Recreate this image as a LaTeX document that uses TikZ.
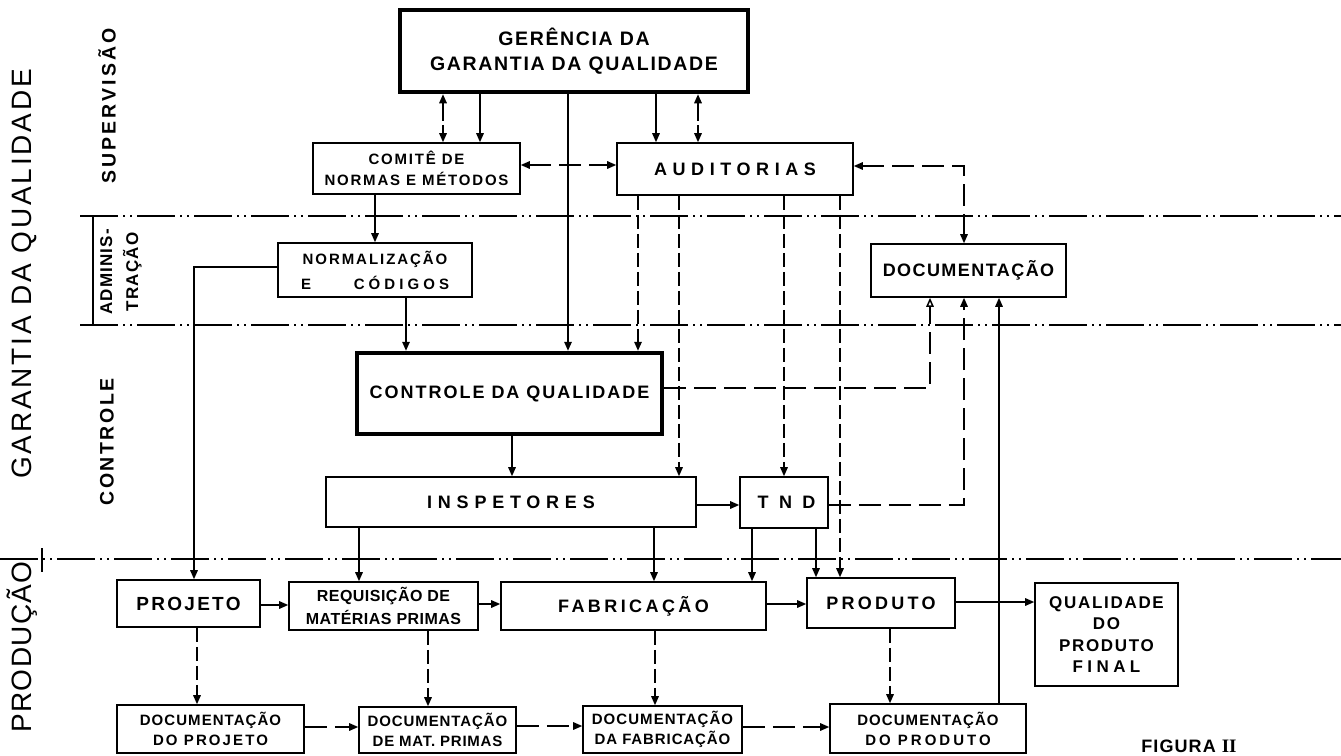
\documentclass[tikz,border=0pt]{standalone}
\usepackage{fontspec}
\setmainfont{Liberation Sans}
\newfontfamily\romannum{Liberation Serif}
\usetikzlibrary{arrows.meta}
\newcommand\fsz[2]{\fontsize{#1}{#2}\selectfont}
\newcommand\lsp[1]{\addfontfeature{LetterSpace=#1}}

\begin{document}
\begin{tikzpicture}[x=1pt,y=-1pt,
  box/.style={draw, line width=1.6pt, inner sep=0pt, align=center},
  heavy/.style={box, line width=4.5pt},
  link/.style={line width=1.5pt},
  arr/.style={link, -{Triangle[length=9pt,width=7.5pt]}},
  biarr/.style={link, {Triangle[length=9pt,width=7.5pt]}-{Triangle[length=9pt,width=7.5pt]}},
  openarr/.style={link, -{Triangle[open,length=9pt,width=7.5pt]}},
  dashlink/.style={dash pattern=on 14pt off 5pt},
  longdash/.style={dash pattern=on 22pt off 8pt},
  brokenlink/.style={dash pattern=on 18pt off 4pt},
  sep/.style={line width=1.8pt, dash pattern=on 38pt off 5pt on 2pt off 5pt on 2pt off 5pt},
  lbl/.style={inner sep=0pt}
]
\useasboundingbox (0,0) rectangle (1341,755);
\fill[white] (0,0) rectangle (1341,755);

% ---- level separators ----
\draw[sep] (80,216) -- (1341,216);
\draw[sep] (80,325) -- (1341,325);
\draw[sep] (0,559) -- (1341,559);
\draw[line width=1.5pt] (93,216) -- (93,325);
\draw[line width=1.5pt] (42,548) -- (42,572);

% ---- side labels ----
\node[lbl, rotate=90, font={\fsz{28}{30}\lsp{10}}] (lgar) at (24,274) {GARANTIA DA QUALIDADE};
\node[lbl, rotate=90, font={\fsz{28}{30}\lsp{5}}] (lprod) at (22,647) {PRODUÇÃO};
\node[lbl, rotate=90, font={\bfseries\fsz{19.5}{22}\lsp{16}}] (lsup) at (107,106) {SUPERVISÃO};
\node[lbl, rotate=90, align=center, font={\bfseries\fsz{17}{26}\lsp{7}}] (ladm) at (121,272) {ADMINIS-\\TRAÇÃO};
\node[lbl, rotate=90, font={\bfseries\fsz{19.5}{22}\lsp{13}}] (lctl) at (107,442) {CONTROLE};

% ---- boxes ----
\node[heavy, minimum width=348pt, minimum height=82pt, font={\bfseries\fsz{19.5}{25}\lsp{8.5}}] (ger) at (574,51) {GERÊNCIA DA\\GARANTIA DA QUALIDADE};
\node[box, minimum width=207pt, minimum height=51pt, font={\bfseries\fsz{15}{21}\lsp{12}}] (com) at (416.5,168.5) {COMITÊ DE\\NORMAS E MÉTODOS};
\node[box, minimum width=236pt, minimum height=52pt, font={\bfseries\fsz{18}{20}\lsp{31}}] (aud) at (735,169) {AUDITORIAS};
\node[box, minimum width=194pt, minimum height=54pt, font={\bfseries\fsz{15}{25}\lsp{13}}] (nor) at (375,270) {\makebox[148pt]{NORMALIZAÇÃO}\\\makebox[148pt]{E\hfill{\lsp{27}CÓDIGOS}}};
\node[box, minimum width=195pt, minimum height=53pt, font={\bfseries\fsz{18}{20}\lsp{8}}] (doc) at (968.5,270.5) {DOCUMENTAÇÃO};
\node[heavy, minimum width=305pt, minimum height=81pt, font={\bfseries\fsz{18}{20}\lsp{11}}] (cq) at (509.5,393.5) {CONTROLE DA QUALIDADE};
\node[box, minimum width=370pt, minimum height=50pt, font={\bfseries\fsz{18}{20}\lsp{32}}] (ins) at (511,502) {INSPETORES};
\node[box, minimum width=88pt, minimum height=51pt, font={\bfseries\fsz{18}{20}\lsp{58}}] (tnd) at (784,502.5) {\hspace{5pt}TND};
\node[box, minimum width=143pt, minimum height=47pt, font={\bfseries\fsz{19}{21}\lsp{12}}] (proj) at (188.5,603.5) {PROJETO};
\node[box, minimum width=189pt, minimum height=48pt, font={\bfseries\fsz{16}{23}\lsp{3}}] (req) at (383.5,606) {REQUISIÇÃO DE\\MATÉRIAS PRIMAS};
\node[box, minimum width=265pt, minimum height=48pt, font={\bfseries\fsz{18}{20}\lsp{19}}] (fab) at (633.5,606) {FABRICAÇÃO};
\node[box, minimum width=148pt, minimum height=50pt, font={\bfseries\fsz{18}{20}\lsp{18}}] (prod) at (881,603) {PRODUTO};
\node[box, minimum width=143pt, minimum height=103pt, font={\bfseries\fsz{17}{21.5}\lsp{10}}] (qual) at (1106.5,634.5) {QUALIDADE\\DO\\PRODUTO\\{\lsp{26}FINAL}};
\node[box, minimum width=187pt, minimum height=48pt, font={\bfseries\fsz{15}{20}\lsp{7}}] (dproj) at (210.5,729) {DOCUMENTAÇÃO\\{\lsp{14}DO PROJETO}};
\node[box, minimum width=157pt, minimum height=46pt, font={\bfseries\fsz{15}{20}\lsp{6}}] (dmat) at (437.5,730) {DOCUMENTAÇÃO\\{\lsp{5}DE MAT. PRIMAS}};
\node[box, minimum width=159pt, minimum height=47pt, font={\bfseries\fsz{15}{20}\lsp{7}}] (dfab) at (662.5,729.5) {DOCUMENTAÇÃO\\{\lsp{6}DA FABRICAÇÃO}};
\node[box, minimum width=196pt, minimum height=49pt, font={\bfseries\fsz{15}{20}\lsp{7}}] (dprod) at (928,728.5) {DOCUMENTAÇÃO\\{\lsp{20}DO PRODUTO}};

\node[lbl, font={\bfseries\fsz{18}{20}}] (fig) at (1189,746) {{\lsp{6}FIGURA}\hspace{6pt}{\romannum\fsz{19}{20}II}};

% ---- supervision links ----
\draw[biarr, brokenlink] (ger.south -| 443,0) -- (com.north -| 443,0);
\draw[arr] (ger.south -| 480,0) -- (com.north -| 480,0);
\draw[arr] (ger.south -| 568,0) -- (cq.north -| 568,0);
\draw[arr] (ger.south -| 656,0) -- (aud.north -| 656,0);
\draw[biarr, brokenlink] (ger.south -| 698,0) -- (aud.north -| 698,0);
\draw[biarr, longdash] (com.east |- 0,165) -- (aud.west |- 0,165);
\draw[biarr, longdash] (aud.east |- 0,166) -| (doc.north -| 964,0);

% ---- administration links ----
\draw[arr] (com.south -| 375,0) -- (nor.north -| 375,0);
\draw[arr] (nor.west |- 0,267) -| (proj.north -| 194,0);
\draw[arr] (nor.south -| 406,0) -- (cq.north -| 406,0);

% ---- audit links ----
\draw[arr, dashlink] (aud.south -| 638,0) -- (cq.north -| 638,0);
\draw[arr, dashlink] (aud.south -| 679,0) -- (ins.north -| 679,0);
\draw[arr, dashlink] (aud.south -| 784,0) -- (tnd.north -| 784,0);
\draw[arr, dashlink] (aud.south -| 840,0) -- (prod.north -| 840,0);

% ---- control links ----
\draw[arr] (cq.south -| 512,0) -- (ins.north -| 512,0);
\draw[openarr, longdash] (cq.east |- 0,388) -| (doc.south -| 930,0);
\draw[arr, longdash] (tnd.east |- 0,505) -| (doc.south -| 964,0);
\draw[arr] (dprod.north -| 999,0) -- (doc.south -| 999,0);
\draw[arr] (ins.east |- 0,505) -- (tnd.west |- 0,505);
\draw[arr] (ins.south -| 359,0) -- (req.north -| 359,0);
\draw[arr] (ins.south -| 654,0) -- (fab.north -| 654,0);
\draw[arr] (tnd.south -| 752,0) -- (fab.north -| 752,0);
\draw[arr] (tnd.south -| 816,0) -- (prod.north -| 816,0);

% ---- production flow ----
\draw[arr] (proj.east |- 0,605) -- (req.west |- 0,605);
\draw[arr] (req.east |- 0,604) -- (fab.west |- 0,604);
\draw[arr] (fab.east |- 0,604) -- (prod.west |- 0,604);
\draw[arr] (prod.east |- 0,602) -- (qual.west |- 0,602);
\draw[arr, dashlink] (proj.south -| 197,0) -- (dproj.north -| 197,0);
\draw[arr, dashlink] (req.south -| 428,0) -- (dmat.north -| 428,0);
\draw[arr, dashlink] (fab.south -| 655,0) -- (dfab.north -| 655,0);
\draw[arr, dashlink] (prod.south -| 890,0) -- (dprod.north -| 890,0);
\draw[arr, longdash] (dproj.east |- 0,727) -- (dmat.west |- 0,727);
\draw[arr, longdash] (dmat.east |- 0,726) -- (dfab.west |- 0,726);
\draw[arr, longdash] (dfab.east |- 0,727) -- (dprod.west |- 0,727);
\end{tikzpicture}
\end{document}
